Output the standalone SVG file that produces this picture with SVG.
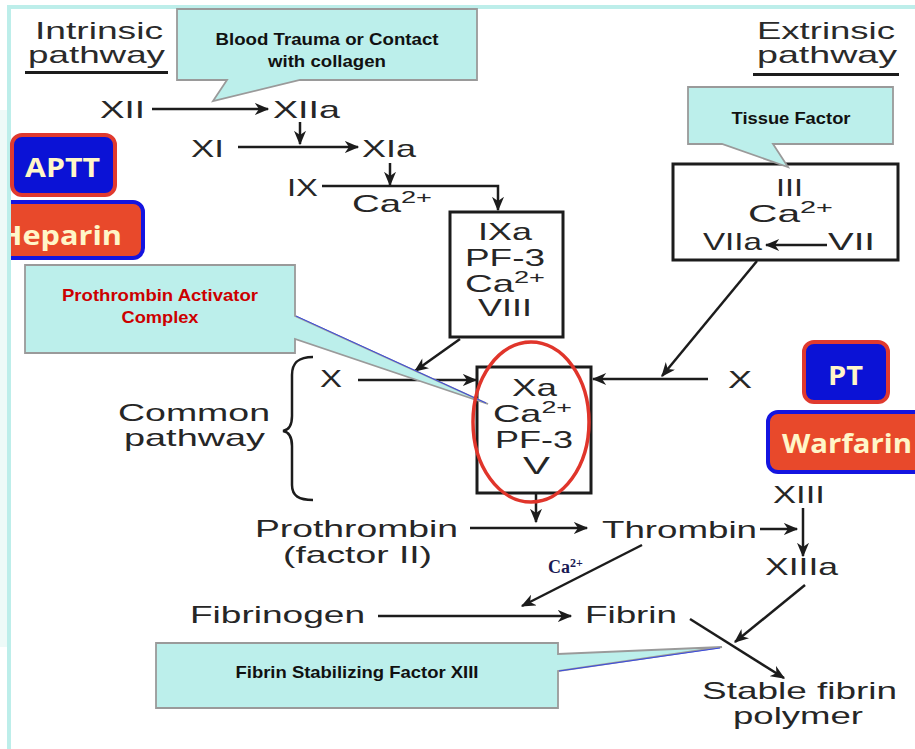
<svg xmlns="http://www.w3.org/2000/svg" width="915" height="749" viewBox="0 0 915 749">
  <defs>
    <marker id="arrow" viewBox="0 0 12 10" refX="11" refY="5" markerUnits="userSpaceOnUse" markerWidth="15" markerHeight="12" orient="auto">
      <path d="M0,0 L12,5 L0,10 L3.5,5 Z" fill="#1c1c1c"/>
    </marker>
    <clipPath id="leftCut">
      <rect x="11" y="0" width="904" height="749"/>
    </clipPath>
    <style>
      .lbl { font-family: "Liberation Sans", Arial, sans-serif; font-size: 24px; fill: #262626; }
      .ttl { font-family: "Liberation Sans", Arial, sans-serif; font-size: 24px; fill: #2a2a2a; }
      .sup { font-size: 17px; }
      .wire { fill: none; stroke: #1c1c1c; stroke-width: 2.5; }
      .arr { marker-end: url(#arrow); }
      .box { fill: none; stroke: #1c1c1c; stroke-width: 3; }
      .callout { fill: #bcefeb; stroke: #9a9a9a; stroke-width: 1.8; stroke-linejoin: miter; }
      .ctext { font-family: "Liberation Sans", Arial, sans-serif; font-weight: bold; font-size: 17px; fill: #111; text-anchor: middle; }
      .red { fill: #cc0000; }
      .badge { font-family: "Open Sans", "Liberation Sans", sans-serif; font-weight: bold; font-size: 27px; fill: #fff6c8; }
      .blue { fill: #0b12d6; stroke: #e03a2f; stroke-width: 4; }
      .orange { fill: #e8492b; stroke: #1414e0; stroke-width: 4; }
    </style>
  </defs>

  <rect width="915" height="749" fill="#ffffff"/>

  <!-- page frame -->
  <g id="frame">
    <rect x="0" y="110" width="7" height="537" fill="#eefaf8"/>
    <rect x="7" y="5" width="908" height="4" fill="#bdeeea"/>
    <rect x="7" y="5" width="4" height="744" fill="#bdeeea"/>
  </g>

  <!-- pathway titles -->
  <g id="intrinsic-title">
    <text class="ttl" x="35" y="39" textLength="128" lengthAdjust="spacingAndGlyphs">Intrinsic</text>
    <text class="ttl" x="28" y="63" textLength="137" lengthAdjust="spacingAndGlyphs">pathway</text>
    <rect x="25" y="71" width="143" height="3" fill="#1c1c1c"/>
  </g>
  <g id="extrinsic-title">
    <text class="ttl" x="757" y="39" textLength="138" lengthAdjust="spacingAndGlyphs">Extrinsic</text>
    <text class="ttl" x="757" y="63" textLength="140" lengthAdjust="spacingAndGlyphs">pathway</text>
    <rect x="753" y="73" width="146" height="3" fill="#1c1c1c"/>
  </g>

  <!-- connectors -->
  <g id="connectors">
    <path class="wire arr" d="M152,109 H268"/>
    <path class="wire arr" d="M300,122 V144"/>
    <path class="wire arr" d="M238,147 H358"/>
    <path class="wire arr" d="M390,163 V185"/>
    <path class="wire arr" d="M322,186 H498 V210"/>
    <path class="wire arr" d="M460,339 L415,371"/>
    <path class="wire arr" d="M358,380 H476"/>
    <path class="wire arr" d="M757,261 L662,376"/>
    <path class="wire arr" d="M708,379 H593"/>
    <path class="wire arr" d="M827,245 H766"/>
    <path class="wire arr" d="M536,494 V522"/>
    <path class="wire arr" d="M470,528 H587"/>
    <path class="wire arr" d="M760,529 H797"/>
    <path class="wire arr" d="M803,508 V556"/>
    <path class="wire arr" d="M642,545 L522,606"/>
    <path class="wire arr" d="M378,616 H571"/>
    <path class="wire arr" d="M805,585 L735,642"/>
    <path class="wire arr" d="M690,619 L784,678"/>
    <!-- common pathway brace -->
    <path class="wire" d="M313,357 C299,357 292,362 292,375 L292,416 C292,425 289,430 283,431 C289,432 292,437 292,446 L292,485 C292,496 299,500 313,500"/>
  </g>

  <!-- intrinsic cascade -->
  <g id="n-xii"><text class="lbl" x="100" y="118" textLength="45" lengthAdjust="spacingAndGlyphs">XII</text></g>
  <g id="n-xiia"><text class="lbl" x="273" y="118" textLength="67" lengthAdjust="spacingAndGlyphs">XIIa</text></g>
  <g id="n-xi"><text class="lbl" x="191" y="157" textLength="33" lengthAdjust="spacingAndGlyphs">XI</text></g>
  <g id="n-xia"><text class="lbl" x="362" y="157" textLength="54" lengthAdjust="spacingAndGlyphs">XIa</text></g>
  <g id="n-ix">
    <text class="lbl" x="287" y="196" textLength="31" lengthAdjust="spacingAndGlyphs">IX</text>
    <text class="lbl" x="352" y="212" textLength="80" lengthAdjust="spacingAndGlyphs">Ca<tspan class="sup" dy="-9">2+</tspan></text>
  </g>

  <g id="n-ixa">
    <rect class="box" x="450" y="212" width="113" height="125"/>
    <text class="lbl" x="478" y="240" textLength="54" lengthAdjust="spacingAndGlyphs">IXa</text>
    <text class="lbl" x="465" y="266" textLength="80" lengthAdjust="spacingAndGlyphs">PF-3</text>
    <text class="lbl" x="465" y="292" textLength="80" lengthAdjust="spacingAndGlyphs">Ca<tspan class="sup" dy="-9">2+</tspan></text>
    <text class="lbl" x="478" y="316" textLength="54" lengthAdjust="spacingAndGlyphs">VIII</text>
  </g>

  <!-- extrinsic complex -->
  <g id="n-tissue">
    <rect class="box" x="673" y="164" width="225" height="96"/>
    <text class="lbl" x="776" y="196" textLength="27" lengthAdjust="spacingAndGlyphs">III</text>
    <text class="lbl" x="748" y="222" textLength="85" lengthAdjust="spacingAndGlyphs">Ca<tspan class="sup" dy="-9">2+</tspan></text>
    <text class="lbl" x="703" y="250" textLength="59" lengthAdjust="spacingAndGlyphs">VIIa</text>
    <text class="lbl" x="828" y="250" textLength="47" lengthAdjust="spacingAndGlyphs">VII</text>
  </g>

  <!-- common pathway -->
  <g id="n-common">
    <text class="lbl" x="118" y="421" textLength="152" lengthAdjust="spacingAndGlyphs">Common</text>
    <text class="lbl" x="124" y="446" textLength="141" lengthAdjust="spacingAndGlyphs">pathway</text>
  </g>
  <g id="n-x"><text class="lbl" x="320" y="387" textLength="22" lengthAdjust="spacingAndGlyphs">X</text></g>
  <g id="n-x-ext"><text class="lbl" x="728" y="388" textLength="24" lengthAdjust="spacingAndGlyphs">X</text></g>

  <g id="n-xa">
    <rect class="box" x="477" y="367" width="114" height="126"/>
    <text class="lbl" x="512" y="396" textLength="45" lengthAdjust="spacingAndGlyphs">Xa</text>
    <text class="lbl" x="493" y="422" textLength="79" lengthAdjust="spacingAndGlyphs">Ca<tspan class="sup" dy="-9">2+</tspan></text>
    <text class="lbl" x="495" y="448" textLength="78" lengthAdjust="spacingAndGlyphs">PF-3</text>
    <text class="lbl" x="523" y="474" textLength="27" lengthAdjust="spacingAndGlyphs">V</text>
  </g>

  <g id="n-prothrombin">
    <text class="lbl" x="255" y="537" textLength="203" lengthAdjust="spacingAndGlyphs">Prothrombin</text>
    <text class="lbl" x="283" y="563" textLength="149" lengthAdjust="spacingAndGlyphs">(factor II)</text>
  </g>
  <g id="n-thrombin"><text class="lbl" x="602" y="538" textLength="155" lengthAdjust="spacingAndGlyphs">Thrombin</text></g>
  <g id="n-xiii"><text class="lbl" x="773" y="503" textLength="52" lengthAdjust="spacingAndGlyphs">XIII</text></g>
  <g id="n-xiiia"><text class="lbl" x="765" y="575" textLength="73" lengthAdjust="spacingAndGlyphs">XIIIa</text></g>
  <g id="n-ca-label">
    <text x="548" y="573" font-family="'Liberation Serif', serif" font-weight="bold" font-size="18" fill="#1a1a55">Ca<tspan font-size="12" dy="-6">2+</tspan></text>
  </g>
  <g id="n-fibrinogen"><text class="lbl" x="190" y="623" textLength="175" lengthAdjust="spacingAndGlyphs">Fibrinogen</text></g>
  <g id="n-fibrin"><text class="lbl" x="585" y="623" textLength="92" lengthAdjust="spacingAndGlyphs">Fibrin</text></g>
  <g id="n-stable">
    <text class="lbl" x="702" y="699" textLength="195" lengthAdjust="spacingAndGlyphs">Stable fibrin</text>
    <text class="lbl" x="733" y="724" textLength="130" lengthAdjust="spacingAndGlyphs">polymer</text>
  </g>

  <!-- test / drug badges -->
  <g id="b-aptt">
    <rect class="blue" x="12" y="135" width="103" height="60" rx="10"/>
    <text class="badge" x="25" y="177" textLength="75" lengthAdjust="spacingAndGlyphs">APTT</text>
  </g>
  <g id="b-heparin" clip-path="url(#leftCut)">
    <rect class="orange" x="-20" y="202" width="163" height="56" rx="10"/>
    <text class="badge" x="-1" y="245" textLength="123" lengthAdjust="spacingAndGlyphs">Heparin</text>
  </g>
  <g id="b-pt">
    <rect class="blue" x="804" y="342" width="84" height="60" rx="10"/>
    <text class="badge" x="828" y="385" textLength="35" lengthAdjust="spacingAndGlyphs">PT</text>
  </g>
  <g id="b-warfarin">
    <rect class="orange" x="768" y="412" width="170" height="60" rx="10"/>
    <text class="badge" x="782" y="453" textLength="130" lengthAdjust="spacingAndGlyphs">Warfarin</text>
  </g>

  <!-- callouts -->
  <g id="c-trauma">
    <path class="callout" d="M177,9 H477 V80 H300 L213,101 L227,80 H177 Z"/>
    <text class="ctext" x="327" y="45" textLength="223" lengthAdjust="spacingAndGlyphs">Blood Trauma or Contact</text>
    <text class="ctext" x="327" y="67" textLength="118" lengthAdjust="spacingAndGlyphs">with collagen</text>
  </g>
  <g id="c-tissue">
    <path class="callout" d="M688,87 H893 V144 H773 L788,167 L722,144 H688 Z"/>
    <text class="ctext" x="791" y="124" textLength="119" lengthAdjust="spacingAndGlyphs">Tissue Factor</text>
  </g>
  <g id="c-activator">
    <path class="callout" d="M25,265 H295 V316 L488,404 L295,339 V353 H25 Z"/>
    <path d="M296,316 L486,403" stroke="#3a4ae0" stroke-width="1" fill="none"/>
    <text class="ctext red" x="160" y="301" textLength="196" lengthAdjust="spacingAndGlyphs">Prothrombin Activator</text>
    <text class="ctext red" x="160" y="323" textLength="77" lengthAdjust="spacingAndGlyphs">Complex</text>
  </g>
  <g id="c-stabilizing">
    <path class="callout" d="M156,643 H558 V654 L722,647 L558,671 V708 H156 Z"/>
    <path d="M559,671 L720,648" stroke="#3a4ae0" stroke-width="1.2" fill="none"/>
    <text class="ctext" x="357" y="678" textLength="243" lengthAdjust="spacingAndGlyphs">Fibrin Stabilizing Factor XIII</text>
  </g>

  <!-- highlight of the activator complex -->
  <g id="highlight">
    <ellipse cx="531" cy="422" rx="58" ry="80" fill="none" stroke="#e0352b" stroke-width="3.5"/>
  </g>
</svg>
